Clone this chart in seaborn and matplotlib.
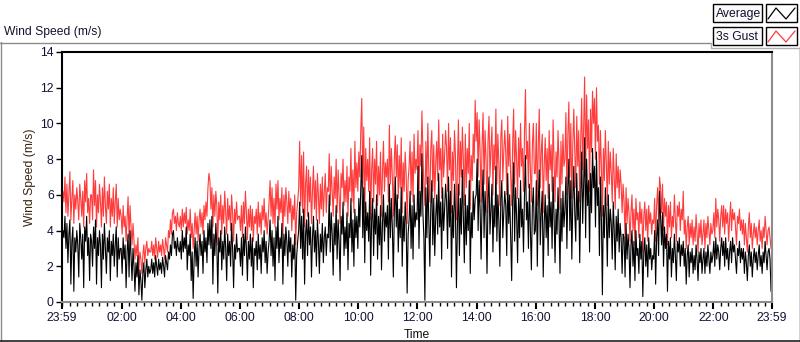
import numpy as np
import pandas as pd
import matplotlib
matplotlib.use("Agg")
import matplotlib.pyplot as plt
from matplotlib.lines import Line2D
from matplotlib.patches import Rectangle
import seaborn as sns

# ---- data: 2-minute samples, one row per hour starting at 23:59 ----
average_rows = [
    [3.2,4.0,3.6,4.8,3.0,4.4,2.2,3.8,4.6,1.0, 3.4,4.2,0.6,3.6,2.8,4.0,3.2,1.4,4.4,3.6, 2.4,3.8,0.8,4.2,3.4,4.8,2.6,3.6,1.2,3.8],
    [3.4,2.0,4.2,3.0,4.6,1.0,3.6,2.6,4.0,3.2, 0.8,3.8,2.4,4.4,3.0,1.6,3.6,2.8,4.0,1.2, 3.4,2.6,3.8,2.0,3.2,4.2,1.4,3.6,2.4,3.0],
    [3.0,1.6,3.6,2.4,3.2,0.8,2.8,3.8,1.4,4.0, 2.6,1.2,3.0,2.0,0.6,2.2,1.4,2.6,0.4,1.8, 1.2,0.1,1.6,2.2,0.8,1.8,2.4,1.4,2.0,1.6],
    [1.8,2.4,1.6,2.2,1.4,2.6,2.0,1.5,2.4,1.8, 2.2,1.6,2.5,2.0,1.4,2.6,2.2,1.8,2.8,2.4, 3.2,2.6,3.8,4.0,3.0,3.4,2.6,3.6,3.0,2.8],
    [3.4,2.4,4.0,2.8,3.6,3.0,4.2,1.8,3.2,2.6, 3.8,1.2,2.8,0.2,2.4,3.6,2.0,3.4,1.4,3.0, 3.8,2.6,3.4,1.6,4.0,2.8,3.6,2.2,4.4,3.2],
    [4.6,3.0,4.8,1.0,3.8,2.6,4.4,3.2,0.5,3.6, 2.8,4.0,1.8,3.4,2.4,4.2,3.0,1.2,3.8,2.6, 3.4,2.0,4.4,3.0,0.8,3.2,2.4,3.8,2.8,3.0],
    [3.0,2.0,3.6,1.5,3.8,2.6,4.2,3.0,1.2,3.4, 2.4,3.8,2.0,3.6,0.8,3.0,2.6,3.4,1.8,3.8, 2.4,3.2,1.6,3.6,2.8,4.0,2.2,3.4,1.6,2.8],
    [3.4,4.6,2.6,4.0,2.0,3.6,1.2,4.2,3.0,4.8, 2.2,3.6,3.0,4.4,1.0,3.8,2.6,4.2,3.4,2.0, 4.0,2.8,3.6,1.4,3.2,2.4,3.8,0.1,2.6,3.4],
    [4.0,5.6,3.0,4.8,2.4,5.2,1.0,3.8,4.6,2.6, 5.0,3.2,4.2,1.4,3.6,4.8,2.8,4.0,2.0,4.6, 3.4,1.6,3.8,2.8,4.4,2.2,3.6,4.2,2.6,3.8],
    [3.6,6.0,2.8,5.0,3.8,1.5,4.4,3.2,5.4,2.4, 4.6,3.4,1.2,4.8,3.8,5.6,2.6,4.2,3.0,5.0, 1.8,4.4,3.6,5.8,2.8,4.6,2.0,5.2,3.6,4.8],
    [3.0,5.8,4.2,6.4,8.2,3.6,6.4,2.2,5.6,4.0, 5.0,3.4,6.2,1.5,4.6,5.8,2.6,5.2,3.8,6.0, 2.4,4.8,3.2,5.4,1.8,4.4,6.0,3.4,5.0,4.2],
    [5.4,2.4,6.6,3.6,5.8,4.2,1.4,5.0,7.0,4.2, 6.0,2.8,5.2,3.6,6.4,2.0,4.8,3.4,5.6,4.4, 0.5,3.8,4.6,6.2,3.0,5.4,2.4,6.0,4.2,5.0],
    [4.6,7.6,3.0,6.2,4.8,8.3,5.0,3.6,0.1,6.4, 3.6,7.0,4.4,2.0,5.4,6.8,3.2,5.8,2.6,4.8, 6.0,3.8,7.2,4.2,5.6,2.4,6.4,4.0,5.2,6.6],
    [5.6,3.0,7.0,4.2,6.2,1.4,5.4,3.6,6.6,5.0, 0.8,4.4,6.6,2.6,5.8,3.8,7.4,4.8,2.2,6.0, 3.2,5.4,4.0,6.8,1.6,5.0,3.6,6.2,4.6,5.8],
    [6.0,8.0,4.0,6.8,5.2,2.4,5.6,7.4,3.6,6.2, 4.8,1.6,5.8,7.0,3.8,5.2,6.6,2.8,5.4,4.2, 7.6,3.4,6.0,4.6,2.0,5.8,6.8,3.6,5.0,6.2],
    [5.4,2.6,7.2,4.4,6.0,3.6,1.2,5.6,7.8,3.4, 6.4,4.8,2.2,5.8,3.6,6.8,4.2,5.2,2.8,6.0, 8.2,4.6,5.6,3.0,6.6,4.0,1.8,5.4,6.4,3.8],
    [4.0,6.8,2.0,5.6,7.4,3.2,5.0,6.2,1.4,4.4, 6.0,3.6,5.4,2.6,6.6,4.2,5.6,3.0,7.0,4.8, 2.2,5.2,3.8,6.4,4.6,1.6,5.8,3.4,6.2,4.2],
    [5.2,7.0,3.0,6.4,8.0,4.0,6.8,2.4,5.6,7.6, 5.0,3.4,7.2,4.6,6.2,2.2,5.8,8.4,4.4,6.6, 9.2,3.6,8.0,5.4,6.8,2.8,7.2,5.0,8.6,6.4],
    [7.6,4.2,8.4,5.4,6.4,2.6,7.0,4.6,0.4,5.4, 3.6,6.4,4.8,2.0,6.0,3.6,5.2,4.4,2.4,5.6, 4.0,1.8,4.8,3.4,5.2,2.8,4.4,3.6,1.6,3.8],
    [3.6,1.4,4.4,2.4,3.8,3.0,0.8,3.2,4.0,2.0, 3.4,1.2,4.0,2.6,3.0,1.6,3.8,2.4,3.4,0.3, 2.8,3.6,2.0,3.2,1.4,3.6,2.4,3.0,1.8,2.6],
    [2.4,4.0,1.0,3.6,4.6,2.6,6.2,4.8,3.2,5.0, 2.0,4.2,3.0,3.8,0.6,3.4,2.4,3.6,1.4,3.0, 2.2,3.8,2.6,1.2,3.4,2.8,3.6,2.0,3.2,2.6],
    [3.4,2.0,3.0,1.0,2.6,3.2,1.4,2.8,2.2,3.0, 1.6,2.6,1.8,3.2,2.4,1.2,2.8,2.2,3.0,1.6, 2.4,3.0,1.6,2.8,2.0,3.2,2.4,1.6,2.8,2.2],
    [2.6,3.4,2.0,3.6,2.4,3.2,2.8,1.8,3.0,3.6, 2.6,3.4,2.0,3.6,2.4,3.0,1.8,2.8,3.4,2.2, 3.6,2.8,3.2,2.4,1.6,3.0,2.6,3.4,2.2,3.0],
    [2.4,3.0,1.6,2.8,2.2,1.2,2.6,3.2,2.0,2.8, 1.4,2.4,3.0,2.2,2.8,1.8,2.6,3.2,2.0,2.6, 1.6,2.8,2.2,3.4,2.6,1.8,2.8,3.0,2.4,0.6],
]
gust_rows = [
    [5.4,6.2,5.6,7.0,5.0,6.6,4.8,6.0,7.3,4.6, 5.8,6.8,4.4,6.0,5.2,6.4,5.6,4.6,6.6,5.8, 4.8,6.2,4.2,6.8,5.6,7.2,5.0,5.8,4.4,6.0],
    [6.0,4.6,7.4,5.4,6.8,4.2,6.0,5.0,6.6,5.6, 4.2,6.4,4.8,7.0,5.4,4.4,6.2,5.2,6.6,4.2, 5.8,4.8,6.4,4.4,5.6,6.6,4.2,5.8,4.6,5.2],
    [4.8,3.8,5.4,4.2,4.8,3.4,4.6,5.9,3.6,5.4, 4.2,3.2,4.4,3.4,2.4,3.2,2.6,3.6,1.8,2.8, 2.4,1.6,2.6,3.2,2.2,3.0,3.4,2.6,3.0,2.8],
    [2.8,3.4,2.6,3.2,2.4,3.6,3.0,2.5,3.4,2.8, 3.2,2.6,3.5,3.0,2.4,3.6,3.2,2.8,4.0,3.6, 4.6,3.8,5.0,5.2,4.4,4.8,4.0,5.0,4.4,4.2],
    [4.8,4.0,5.2,4.2,5.0,4.4,5.3,3.8,4.6,4.0, 5.2,3.6,4.4,3.0,4.0,5.0,3.8,4.8,3.4,4.6, 5.2,4.2,5.0,3.8,5.4,4.6,5.6,4.8,6.4,7.2],
    [6.8,5.2,6.4,4.2,6.0,4.8,6.2,5.4,3.2,5.6, 4.6,6.0,3.8,5.4,4.4,6.2,5.0,3.8,5.8,4.6, 5.4,4.0,6.0,5.0,3.4,5.2,4.4,5.6,4.6,4.8],
    [4.8,4.0,5.4,3.6,5.6,4.4,6.2,5.0,3.5,5.2, 4.2,5.4,4.0,5.2,3.4,4.8,4.4,5.2,3.8,5.6, 4.2,5.0,3.8,5.4,4.6,5.8,4.2,5.0,3.8,4.6],
    [5.6,6.8,4.8,6.4,4.4,5.8,4.2,6.6,5.2,6.8, 4.6,5.8,5.0,6.4,3.8,6.0,4.8,6.4,5.6,4.4, 6.2,5.0,5.8,4.0,5.4,4.6,6.0,3.2,5.0,5.6],
    [6.4,9.0,5.4,8.2,5.0,8.4,4.2,6.6,7.6,4.8, 7.4,5.6,7.0,4.4,6.2,7.6,5.2,6.8,4.6,7.2, 6.0,4.4,6.6,5.2,7.0,4.8,6.2,7.2,5.0,6.4],
    [6.2,8.3,5.4,7.6,6.2,4.8,7.0,5.8,8.0,5.0, 7.4,6.0,4.4,7.2,6.4,8.0,5.4,6.8,5.6,7.6, 4.8,7.0,6.2,8.6,5.6,7.4,5.0,9.0,6.4,7.8],
    [6.2,8.4,7.0,9.6,11.4,6.4,9.8,5.0,8.6,6.8, 8.0,6.2,9.2,4.6,7.4,8.6,5.6,8.0,6.6,9.0, 5.4,7.6,6.0,8.4,4.8,7.2,9.0,6.2,7.8,7.0],
    [8.0,5.6,9.9,6.6,8.6,7.0,4.8,8.0,9.3,7.0, 8.8,5.8,8.2,6.4,9.2,5.0,7.8,6.2,8.4,7.2, 4.4,6.8,7.6,9.0,6.0,8.4,5.6,9.4,7.2,8.0],
    [7.4,9.6,6.0,8.8,7.6,10.7,8.4,6.4,5.4,9.0, 6.6,10.0,7.2,5.6,8.6,9.6,6.2,8.8,5.8,7.8, 9.0,6.8,10.2,7.4,8.6,5.8,9.4,7.0,8.2,9.6],
    [8.6,6.2,10.0,7.4,9.2,5.0,8.4,6.8,9.6,8.2, 4.6,7.6,10.2,6.0,9.0,7.0,9.8,8.0,5.4,9.4, 6.4,8.6,7.2,10.0,5.2,8.2,6.8,9.4,7.8,11.3],
    [9.0,10.6,7.0,10.2,8.4,5.6,8.8,10.6,6.6,9.6, 8.0,5.0,9.0,10.4,7.0,8.6,9.8,6.0,8.8,7.4, 10.8,6.6,9.4,7.8,5.4,9.2,10.2,6.8,8.4,9.6],
    [8.4,6.0,10.4,7.6,9.4,7.0,5.4,8.8,10.8,6.6, 9.6,8.0,5.8,9.2,7.0,10.0,7.6,8.6,6.2,9.4, 11.9,8.0,9.0,6.4,10.0,7.4,5.6,8.8,10.0,7.2],
    [7.2,10.0,5.4,8.8,10.8,6.4,8.4,9.4,5.0,7.6, 9.2,6.8,8.6,5.8,9.6,7.4,8.8,6.2,10.2,8.0, 5.6,8.4,7.0,9.6,7.8,5.2,9.0,6.6,9.4,7.6],
    [8.0,10.6,6.0,9.4,11.2,7.0,10.0,5.8,8.8,10.8, 8.4,6.4,10.4,7.6,9.6,5.6,9.0,11.4,7.4,9.8, 12.6,7.0,11.6,8.6,10.2,6.2,10.8,8.4,11.8,10.0],
    [11.4,8.0,12.0,9.0,9.9,6.6,9.6,7.6,4.8,8.6, 6.8,9.6,7.8,5.4,9.0,6.6,8.4,7.2,5.6,8.6, 7.0,5.2,8.3,6.4,7.6,5.8,7.4,6.6,5.0,6.6],
    [5.6,3.6,6.4,4.4,5.8,5.0,3.4,5.0,6.0,4.0, 5.2,3.2,5.8,4.6,5.0,3.6,5.6,4.4,5.2,2.8, 4.8,5.6,4.0,5.2,3.4,5.4,4.4,5.0,3.8,4.6],
    [4.4,5.8,3.4,5.4,6.4,4.6,7.0,6.4,5.0,6.6, 4.0,5.8,4.8,5.6,3.2,5.4,4.2,5.6,3.6,4.8, 4.2,6.0,4.6,3.4,5.4,4.8,5.6,4.0,5.2,4.6],
    [6.2,3.8,4.6,3.0,4.2,4.8,3.2,4.4,3.6,4.6, 3.2,4.2,3.4,4.9,3.8,2.8,4.4,3.6,4.6,3.2, 3.8,4.6,3.0,4.4,3.6,4.8,4.0,3.2,4.4,3.8],
    [4.0,5.0,3.6,5.8,4.2,5.2,4.6,3.4,4.8,5.4, 4.2,5.4,3.8,5.2,4.4,5.0,3.4,4.6,5.6,4.0, 5.2,4.6,5.0,4.2,3.2,4.8,4.4,5.2,4.0,4.6],
    [3.8,4.6,3.2,4.4,3.6,2.8,4.2,5.0,3.6,4.4, 3.0,3.8,4.4,3.6,4.2,3.2,4.0,4.6,3.4,4.0, 3.0,4.2,3.6,4.8,4.0,3.2,4.0,4.2,3.6,3.0],
]
sample_minutes = 2
x_tick_labels = ["23:59", "02:00", "04:00", "06:00", "08:00", "10:00", "12:00",
                 "14:00", "16:00", "18:00", "20:00", "22:00", "23:59"]
x_tick_minutes = [0, 121, 241, 361, 481, 601, 721, 841, 961, 1081, 1201, 1321, 1440]
y_ticks = [0, 2, 4, 6, 8, 10, 12, 14]

average = [v for row in average_rows for v in row]
gust = [v for row in gust_rows for v in row]
minutes = np.arange(len(average)) * sample_minutes
df = pd.DataFrame({"t": minutes, "Average": average, "3s Gust": gust})

sns.set_theme(style="white")
plt.rcParams["font.family"] = ["Liberation Sans", "DejaVu Sans"]
FS = 8.7
W, H = 800, 342
fig = plt.figure(figsize=(W / 100, H / 100), dpi=100)
fig.patch.set_facecolor("white")

def fx(px):
    return px / W

def fy(py):
    return 1 - py / H

ax = fig.add_axes([fx(62), fy(302), fx(772) - fx(62), fy(52) - fy(302)])
sns.lineplot(data=df, x="t", y="3s Gust", color="#ff3b3b", lw=0.8, ax=ax)
sns.lineplot(data=df, x="t", y="Average", color="black", lw=0.8, ax=ax)

ax.set_xlim(0, 1440)
ax.set_ylim(0, 14)
ax.set_xticks(x_tick_minutes)
ax.set_xticklabels(x_tick_labels)
ax.set_xticks(np.arange(1, 1440, 15), minor=True)
ax.set_yticks(y_ticks)
ax.set_yticklabels([str(v) for v in y_ticks])
ax.tick_params(axis="both", which="major", labelsize=FS, labelcolor="#111133",
               direction="out", length=4, width=1, pad=2, color="black")
ax.tick_params(axis="x", which="major", length=5, width=1.5, bottom=True)
ax.tick_params(axis="x", which="minor", bottom=True, length=3, width=1, color="black")
ax.tick_params(axis="y", which="major", left=True)
ax.set_xlabel("Time", fontsize=FS, color="#111111", labelpad=4)
ax.set_ylabel("Wind Speed (m/s)", fontsize=FS, color="#3a2410", labelpad=3)
ax.spines["left"].set_color("black")
ax.spines["top"].set_color("black")
ax.spines["left"].set_linewidth(1.5)
ax.spines["top"].set_linewidth(1.5)
ax.spines["right"].set_color("#8c8c8c")
ax.spines["bottom"].set_color("#8c8c8c")
ax.spines["right"].set_linewidth(1.5)
ax.spines["bottom"].set_linewidth(1.5)
for s in ax.spines.values():
    s.set_visible(True)

# outer panel frame
fig.add_artist(Line2D([fx(0.5), fx(0.5)], [fy(42), fy(341)], color="#8c8c8c", lw=1))
fig.add_artist(Line2D([fx(0), fx(711)], [fy(42.5), fy(42.5)], color="#8c8c8c", lw=1))
fig.add_artist(Line2D([fx(0), fx(800)], [fy(341), fy(341)], color="#202020", lw=1.2))
fig.add_artist(Line2D([fx(799.5), fx(799.5)], [fy(47), fy(341)], color="#202020", lw=1))
fig.add_artist(Line2D([fx(711), fx(800)], [fy(47.5), fy(47.5)], color="#b0b0b0", lw=1))
fig.add_artist(Line2D([fx(711), fx(711)], [fy(42.5), fy(47.5)], color="#b0b0b0", lw=1))

fig.text(fx(4), fy(32), "Wind Speed (m/s)", fontsize=FS, color="#141430",
         ha="left", va="center")

# legend boxes
legend_items = [("Average", "black", 4), ("3s Gust", "#ff3b3b", 27)]
for label, col, top in legend_items:
    fig.add_artist(Rectangle((fx(713), fy(top + 18)), fx(49), fy(top) - fy(top + 18),
                             facecolor="#fafafa", edgecolor="black", lw=1))
    fig.text(fx(715.5), fy(top + 9.5), label, fontsize=FS, color="#101030",
             ha="left", va="center")
    fig.add_artist(Rectangle((fx(766), fy(top + 18)), fx(31), fy(top) - fy(top + 18),
                             facecolor="white", edgecolor="black", lw=1))
    fig.add_artist(Line2D([fx(768), fx(776), fx(786), fx(795)],
                          [fy(top + 15), fy(top + 4), fy(top + 15), fy(top + 4)],
                          color=col, lw=0.9))

fig.savefig("out.png", dpi=100, facecolor="white")
